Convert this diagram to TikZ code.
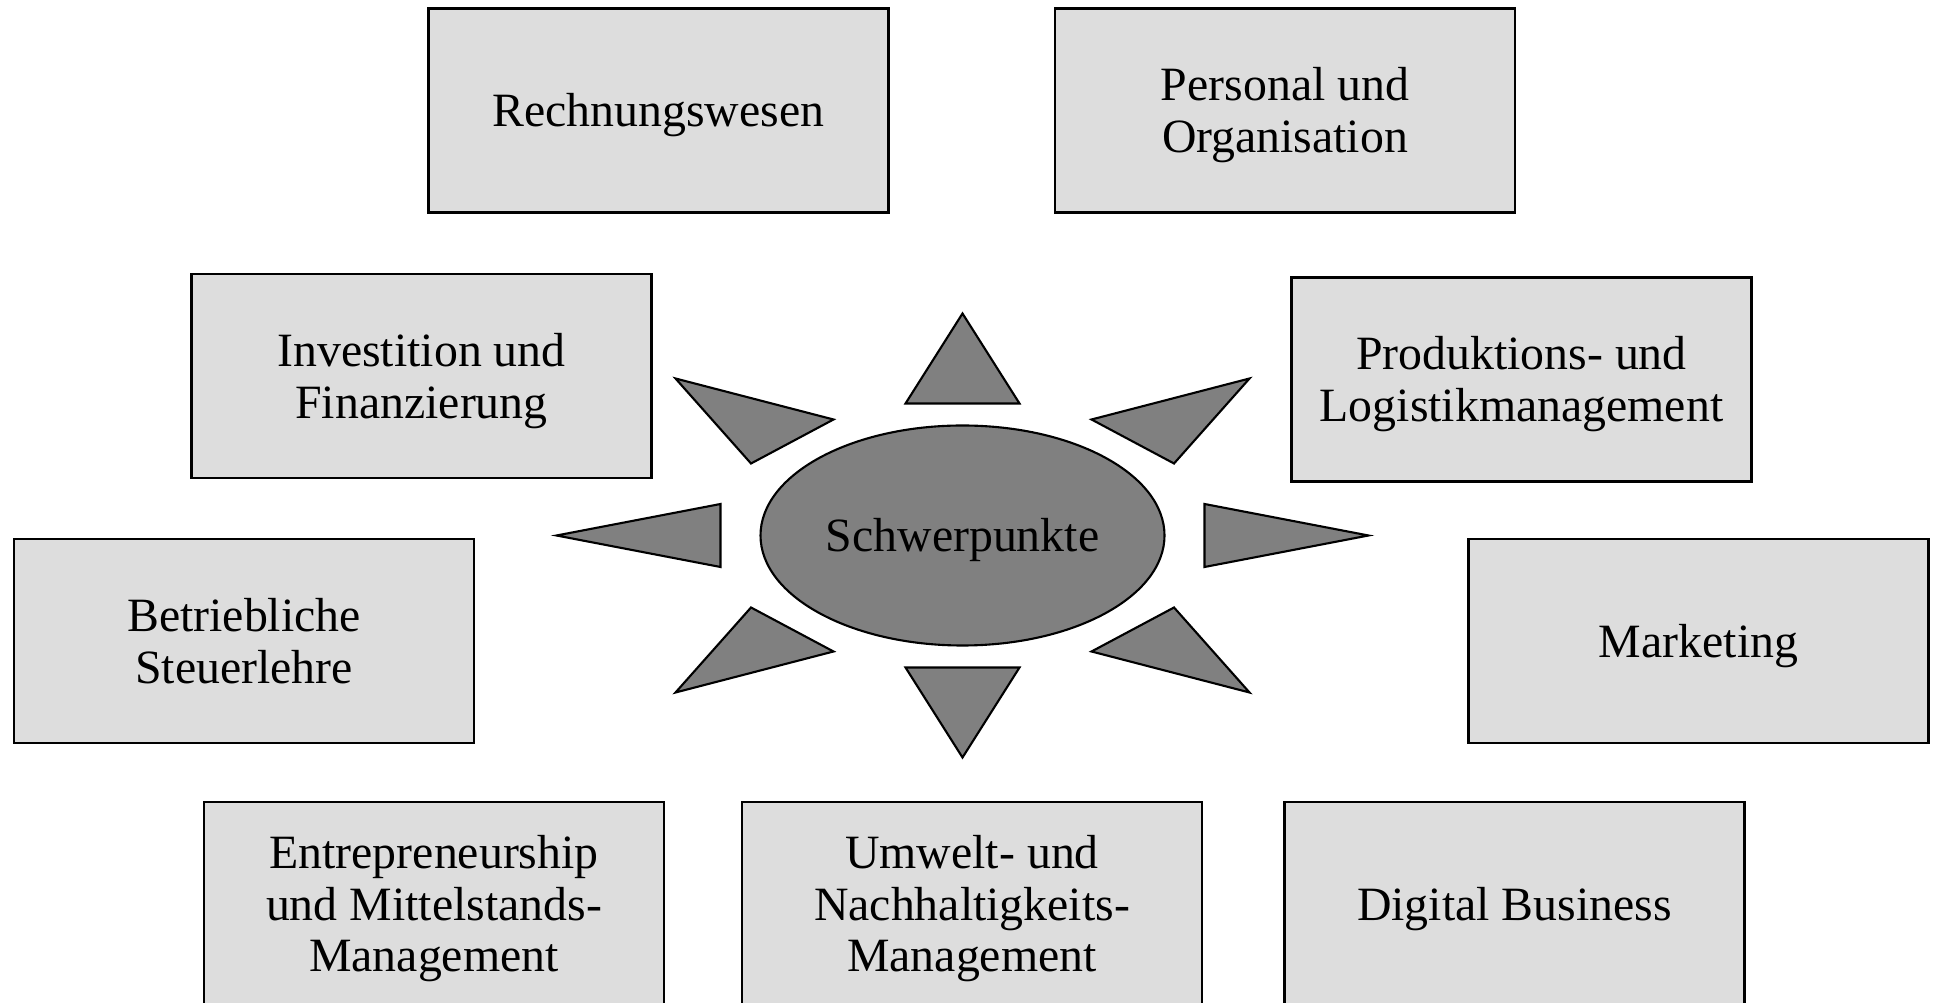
\documentclass[tikz,border=0pt]{standalone}
\usepackage{fontspec}
\setmainfont{Liberation Serif}
\usetikzlibrary{shapes.geometric}

\definecolor{boxgray}{gray}{0.867}
\definecolor{sungray}{gray}{0.5}
\newcommand{\lift}{\rule{0pt}{12.2pt}}

\begin{document}
\begin{tikzpicture}[
  area/.style={draw,line width=0.6pt,fill=boxgray,minimum width=4.6cm,minimum height=2.04cm,
    inner sep=0pt,align=center,font=\fontsize{13.6}{14.7}\selectfont,
    execute at end node={\rule[-2.95pt]{0pt}{0pt}}},
  ray/.style={draw,line width=0.6pt,fill=sungray,line join=miter}]
  \clip (0,0) rectangle (19.35,10.02);
  \node[area] (rw) at (6.585,8.915) {\lift Rechnungswesen};
  \node[area] (po) at (12.85,8.915) {\lift Personal und\\Organisation};
  \node[area] (if) at (4.215,6.26) {\lift Investition und\\Finanzierung};
  \node[area] (pl) at (15.215,6.225) {\lift Produktions- und\\Logistikmanagement};
  \node[area] (st) at (2.44,3.61) {\lift Betriebliche\\Steuerlehre};
  \node[area] (mk) at (16.985,3.61) {\lift Marketing};
  \node[area] (em) at (4.34,0.98) {\lift Entrepreneurship\\und Mittelstands-\\Management};
  \node[area] (un) at (9.72,0.98) {\lift Umwelt- und\\Nachhaltigkeits-\\Management};
  \node[area] (db) at (15.145,0.98) {\lift Digital Business};
  % sun in the middle
  \node[ellipse,draw,line width=0.6pt,fill=sungray,minimum width=4.04cm,minimum height=2.2cm,
    inner sep=0pt,font=\fontsize{13.6}{14.7}\selectfont] (sp) at (9.625,4.665) {\lift Schwerpunkte};
  \begin{scope}[shift={(sp.center)}]
    \foreach \s in {1,-1} {
      \draw[ray] (0,{2.22*\s}) -- (0.57,{1.32*\s}) -- (-0.57,{1.32*\s}) -- cycle;
      \draw[ray] ({4.06*\s},0) -- ({2.42*\s},0.315) -- ({2.42*\s},-0.315) -- cycle;
    }
    \foreach \sx/\sy in {1/1,-1/1,1/-1,-1/-1}
      \draw[ray] ({2.87*\sx},{1.57*\sy}) -- ({1.29*\sx},{1.16*\sy}) -- ({2.115*\sx},{0.72*\sy}) -- cycle;
  \end{scope}
\end{tikzpicture}
\end{document}
